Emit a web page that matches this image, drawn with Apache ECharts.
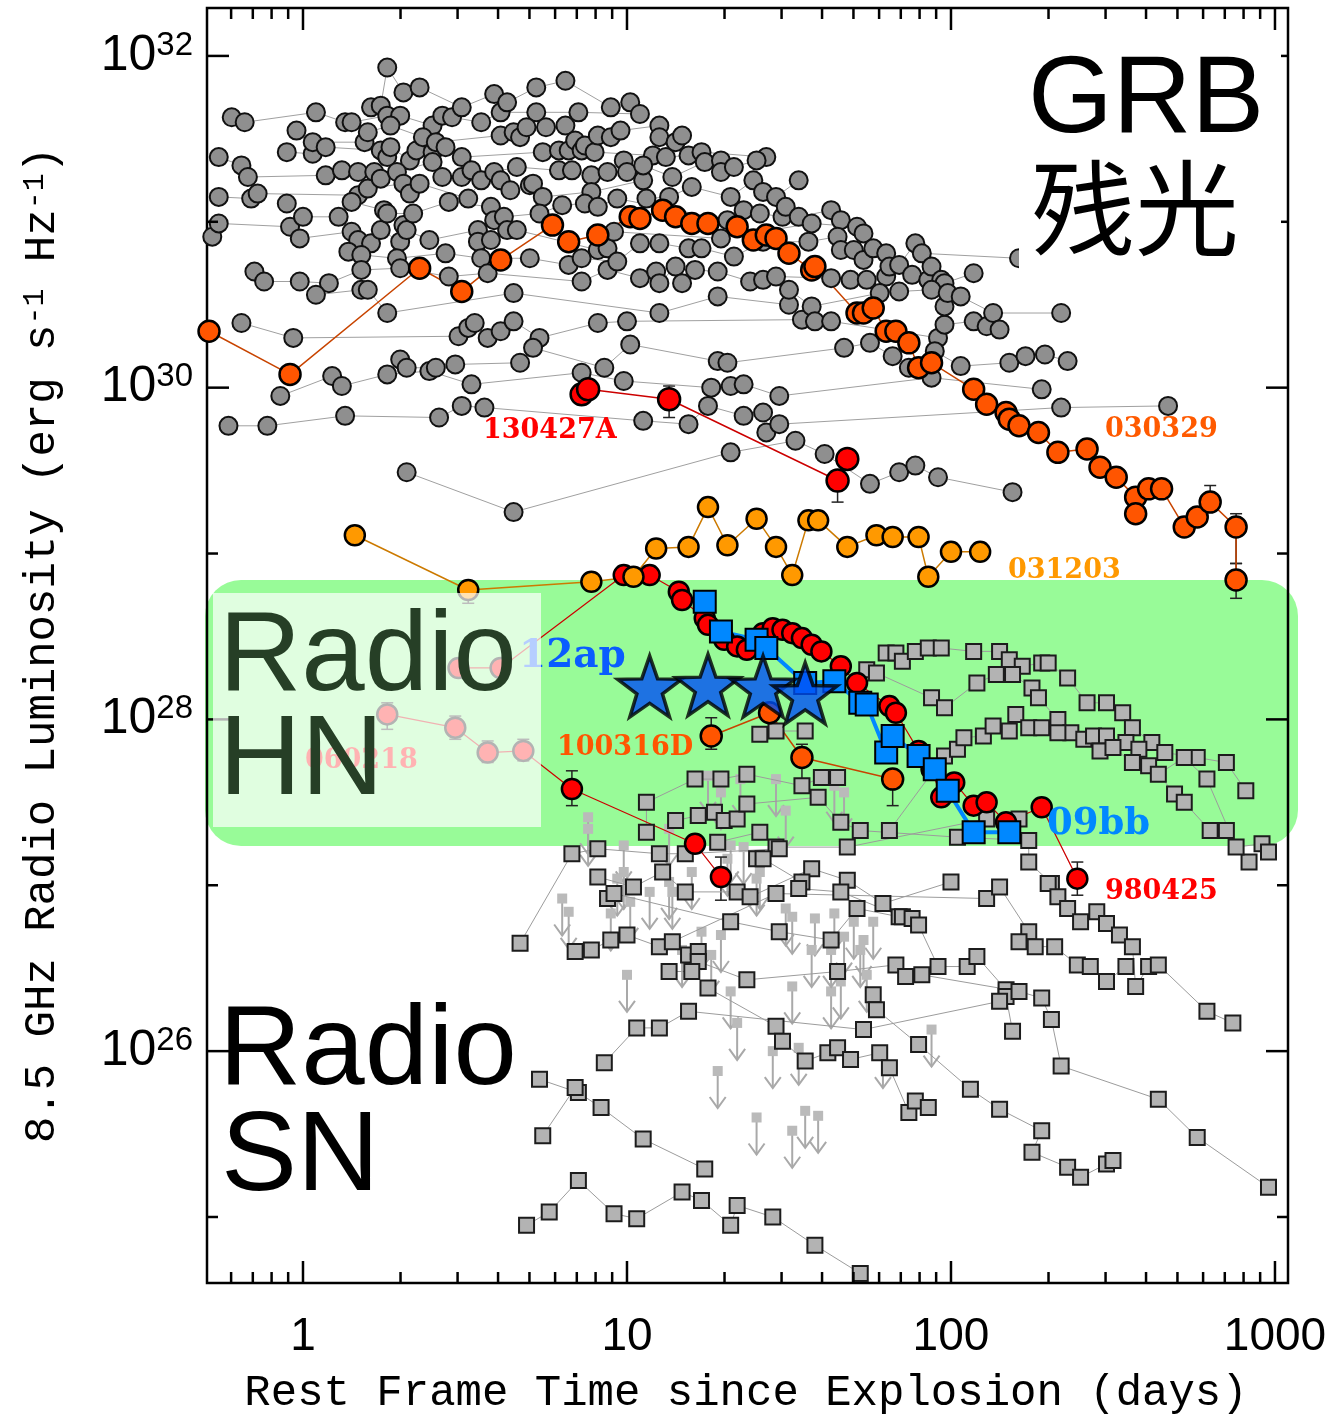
<!DOCTYPE html>
<html><head><meta charset="utf-8">
<script src="https://cdn.jsdelivr.net/npm/echarts@6/dist/echarts.min.js"></script>
<style>html,body{margin:0;padding:0;background:#fff}#c{width:1334px;height:1416px}</style>
</head><body><div id="c"></div>
<script>
// All values: [log10(days), log10(L_nu / erg s^-1 Hz^-1)]
const X_MIN = 0.5055, X_MAX = 1097, Y_MIN = 4.0e24, Y_MAX = 1.945e32;
const xTickLabels = [1, 10, 100, 1000];
const yTickExponents = [26, 28, 30, 32];

// grey GRB afterglows, grouped in luminosity bands
const grbBandA = [[-0.22,31.63],[-0.18,31.60],[0.04,31.66],[0.13,31.60],[0.15,31.60],[0.21,31.69],[0.24,31.70],[0.26,31.93],[0.26,31.64],[0.30,31.64],[0.31,31.78],[0.36,31.81],[0.40,31.58],[0.43,31.64],[0.46,31.63],[0.49,31.69],[0.55,31.60],[0.59,31.77],[0.61,31.66],[0.63,31.72],[0.72,31.66],[0.72,31.81],[0.81,31.85],[0.85,31.66],[0.95,31.69],[1.01,31.72],[1.04,31.65]];
const grbBandB = [[-0.05,31.42],[-0.02,31.55],[0.03,31.41],[0.03,31.48],[0.07,31.45],[0.19,31.48],[0.20,31.54],[0.24,31.43],[0.26,31.39],[0.27,31.58],[0.27,31.45],[0.33,31.37],[0.35,31.43],[0.37,31.51],[0.40,31.42],[0.41,31.48],[0.44,31.45],[0.49,31.39],[0.61,31.52],[0.65,31.54],[0.67,31.51],[0.69,31.57],[0.74,31.42],[0.75,31.57],[0.79,31.43],[0.81,31.58],[0.82,31.43],[0.84,31.49],[0.86,31.43],[0.87,31.46],[0.90,31.42],[0.91,31.52],[0.95,31.51],[0.98,31.55],[1.08,31.40],[1.10,31.58],[1.10,31.51],[1.12,31.39],[1.15,31.48],[1.17,31.52],[1.19,31.40],[1.23,31.42],[1.43,31.39]];
const grbBandC = [[-0.26,31.39],[-0.26,31.15],[-0.19,31.34],[-0.17,31.27],[-0.16,31.14],[-0.14,31.17],[0.07,31.28],[0.12,31.31],[0.17,31.30],[0.17,31.16],[0.20,31.20],[0.22,31.30],[0.24,31.26],[0.29,31.30],[0.31,31.23],[0.33,31.17],[0.36,31.23],[0.40,31.36],[0.43,31.27],[0.49,31.27],[0.51,31.14],[0.52,31.31],[0.55,31.25],[0.59,31.30],[0.61,31.25],[0.64,31.19],[0.66,31.33],[0.70,31.22],[0.71,31.23],[0.74,31.15],[0.79,31.31],[0.83,31.31],[0.89,31.28],[0.89,31.18],[0.94,31.30],[0.99,31.37],[1.00,31.30],[1.05,31.25],[1.05,31.34],[1.06,31.14],[1.13,31.15],[1.14,31.27],[1.20,31.21],[1.24,31.36],[1.29,31.37],[1.29,31.30],[1.32,31.15],[1.33,31.33],[1.39,31.25],[1.40,31.37],[1.42,31.18],[1.46,31.15],[1.53,31.25]];
const grbBandD = [[-0.28,30.91],[-0.26,30.99],[-0.05,31.11],[-0.04,30.97],[-0.01,30.90],[0.00,31.03],[0.11,31.03],[0.15,31.12],[0.15,30.94],[0.17,30.89],[0.21,30.87],[0.24,30.95],[0.25,31.07],[0.26,31.05],[0.30,30.88],[0.31,30.98],[0.32,30.95],[0.34,31.05],[0.39,30.89],[0.45,31.12],[0.54,30.95],[0.54,30.88],[0.58,31.09],[0.58,30.89],[0.59,31.01],[0.62,31.03],[0.63,30.95],[0.66,30.95],[0.73,31.05],[0.80,31.10],[0.87,31.11],[0.91,31.09],[0.91,30.83],[0.94,30.84],[0.96,30.94],[0.97,31.14],[1.29,30.90],[1.31,31.01],[1.36,31.07],[1.41,31.05],[1.48,31.03],[1.49,31.09],[1.53,31.03],[1.57,30.99],[1.63,31.07],[1.66,31.01],[1.71,30.97],[1.73,30.93]];
const grbBandE = [[-0.15,30.70],[-0.12,30.64],[-0.01,30.64],[0.08,30.63],[0.14,30.82],[0.18,30.80],[0.18,30.71],[0.29,30.78],[0.30,30.72],[0.44,30.81],[0.45,30.67],[0.55,30.78],[0.57,30.69],[0.70,30.78],[0.82,30.74],[0.86,30.64],[0.86,30.78],[0.94,30.71],[0.97,30.76],[1.04,30.87],[1.04,30.66],[1.09,30.70],[1.10,30.87],[1.10,30.63],[1.15,30.73],[1.17,30.63],[1.19,30.84],[1.21,30.71],[1.23,30.84],[1.28,30.70],[1.33,30.79],[1.38,30.64],[1.42,30.88],[1.42,30.65],[1.46,30.67],[1.56,30.88],[1.63,30.66],[1.65,30.91],[1.66,30.83],[1.69,30.65],[1.70,30.83],[1.73,30.77],[1.74,30.65],[1.76,30.84],[1.80,30.67],[1.80,30.81],[1.81,30.73],[1.84,30.74],[1.88,30.68],[1.89,30.87],[1.91,30.81],[1.93,30.65],[1.94,30.73],[1.97,30.65],[1.98,30.63],[2.07,30.69],[2.21,30.78]];
const grbBandF = [[-0.19,30.39],[-0.03,30.30],[0.04,30.56],[0.18,30.59],[0.20,30.59],[0.26,30.45],[0.48,30.31],[0.51,30.36],[0.53,30.39],[0.57,30.30],[0.61,30.34],[0.65,30.57],[0.65,30.40],[0.73,30.30],[0.91,30.39],[1.00,30.40],[1.10,30.45],[1.28,30.55],[1.50,30.50],[1.50,30.59],[1.54,30.41],[1.57,30.49],[1.58,30.40],[1.63,30.40],[1.78,30.57],[1.84,30.58],[1.94,30.59],[1.96,30.30],[1.98,30.38],[1.98,30.49],[1.99,30.57],[2.03,30.55],[2.07,30.40],[2.11,30.37],[2.13,30.45],[2.15,30.35],[2.34,30.45]];
const grbBandG = [[-0.07,29.95],[0.09,30.07],[0.12,30.01],[0.26,30.08],[0.30,30.17],[0.32,30.12],[0.39,30.10],[0.41,30.12],[0.47,30.14],[0.52,30.02],[0.67,30.15],[0.71,30.24],[0.86,30.09],[0.93,30.12],[0.99,30.04],[1.01,30.26],[1.26,30.00],[1.28,30.16],[1.31,30.15],[1.32,30.01],[1.36,30.02],[1.47,29.95],[1.67,30.24],[1.75,30.27],[1.82,30.19],[1.87,30.12],[1.94,30.06],[1.95,30.22],[2.03,30.13],[2.18,30.15],[2.23,30.19],[2.28,29.99],[2.29,30.20],[2.36,30.16]];
const grbBandH = [[-0.23,29.77],[-0.11,29.77],[0.13,29.83],[0.32,29.49],[0.42,29.82],[0.49,29.89],[0.56,29.88],[0.65,29.25],[1.05,29.80],[1.19,29.78],[1.25,29.89],[1.32,29.61],[1.36,29.83],[1.42,29.85],[1.43,29.73],[1.47,29.78],[1.52,29.68],[1.61,29.60],[1.75,29.42],[1.84,29.49],[1.89,29.53],[1.96,29.46],[2.19,29.37],[2.34,29.88],[2.67,29.89]];

// highlighted GRBs / SNe
const grb030329 = [[-0.29,30.34],[-0.04,30.08],[0.36,30.72],[0.49,30.58],[0.61,30.77],[0.77,30.98],[0.82,30.88],[0.91,30.92],[1.01,31.03],[1.04,31.02],[1.11,31.07],[1.15,31.03],[1.20,30.99],[1.25,30.99],[1.34,30.97],[1.39,30.89],[1.43,30.92],[1.46,30.90],[1.50,30.81],[1.57,30.71],[1.58,30.73],[1.71,30.45],[1.73,30.45],[1.76,30.48],[1.80,30.34],[1.83,30.34],[1.87,30.27],[1.90,30.12],[1.94,30.15],[2.07,29.99],[2.11,29.90],[2.17,29.85],[2.18,29.81],[2.21,29.77],[2.27,29.73],[2.33,29.61],[2.42,29.63],[2.46,29.52],[2.51,29.46],[2.57,29.34],[2.57,29.24],[2.61,29.39],[2.65,29.39],[2.72,29.16],[2.76,29.22],[2.80,29.31],[2.88,29.16],[2.88,28.84]];
const grb130427A = [[0.86,29.96],[0.88,29.99],[1.13,29.93],[1.65,29.44],[1.68,29.57]];
const grb031203 = [[0.16,29.11],[0.51,28.78],[0.89,28.83],[1.02,28.86],[1.09,29.03],[1.19,29.04],[1.25,29.28],[1.31,29.05],[1.40,29.21],[1.46,29.04],[1.51,28.87],[1.56,29.20],[1.59,29.20],[1.68,29.04],[1.77,29.11],[1.82,29.10],[1.90,29.10],[1.93,28.86],[2.00,29.01],[2.09,29.01]];
const grb980425 = [[0.48,28.31],[0.61,28.31],[0.99,28.87],[1.07,28.87],[1.16,28.77],[1.17,28.72],[1.24,28.61],[1.25,28.57],[1.30,28.48],[1.34,28.44],[1.37,28.42],[1.42,28.52],[1.45,28.55],[1.48,28.54],[1.51,28.52],[1.54,28.49],[1.57,28.45],[1.60,28.41],[1.66,28.32],[1.71,28.22],[1.81,28.08],[1.83,28.04],[1.90,27.81],[1.94,27.70],[1.97,27.53],[2.01,27.62],[2.07,27.48],[2.11,27.50],[2.17,27.38],[2.28,27.47],[2.39,27.04]];
const grb060218 = [[0.26,28.03],[0.47,27.95],[0.57,27.80],[0.68,27.81],[0.83,27.58],[1.21,27.25],[1.29,27.05]];
const grb100316D = [[1.26,27.90],[1.44,28.04],[1.54,27.77],[1.82,27.64]];
const sn2009bb = [[1.24,28.71],[1.29,28.53],[1.40,28.48],[1.43,28.43],[1.55,28.22],[1.64,28.23],[1.72,28.10],[1.74,28.09],[1.80,27.80],[1.82,27.90],[1.90,27.78],[1.95,27.70],[1.99,27.57],[2.07,27.32],[2.18,27.32]];
const sn2012ap = [[1.07,28.18],[1.25,28.19],[1.42,28.18],[1.55,28.14]];
// error bars: [log t, low, high]
const errorBars = [[1.13,29.82,30.01],[1.65,29.31,29.44],[2.80,29.31,29.41],[2.88,28.94,29.24],[2.88,28.73,28.94],[1.26,27.82,28.01],[1.82,27.48,27.64],[1.54,27.62,27.85],[0.83,27.48,27.69],[1.29,26.91,27.17],[2.39,26.94,27.14],[0.51,28.70,28.78],[0.26,27.94,28.10],[0.47,27.88,28.02],[0.57,27.74,27.87],[0.68,27.75,27.88]];

// ordinary radio supernovae (detections)
const snTracks = [
 [[1.80,28.40],[1.83,28.40],[1.85,28.35],[1.89,28.41],[1.93,28.43],[1.97,28.43],[2.07,28.41],[2.15,28.41],[2.18,28.36],[2.22,28.32],[2.28,28.34],[2.30,28.34],[2.36,28.25],[2.42,28.10],[2.48,28.10],[2.53,28.04],[2.56,27.95],[2.62,27.86],[2.66,27.80],[2.76,27.77],[2.85,27.74],[2.91,27.57]],
 [[1.74,28.30],[1.77,28.28],[1.94,28.13],[1.98,28.07],[2.08,28.22],[2.14,28.27],[2.19,28.27],[2.25,28.19],[2.27,28.13],[2.33,28.00],[2.37,27.92],[2.41,27.88],[2.44,27.90],[2.48,27.90],[2.54,27.86],[2.58,27.82],[2.69,27.55],[2.72,27.50],[2.80,27.33],[2.85,27.33],[2.92,27.14]],
 [[1.81,27.33],[1.98,27.78],[2.02,27.82],[2.04,27.89],[2.10,27.90],[2.13,27.96],[2.18,27.93],[2.20,28.03],[2.24,27.95],[2.28,27.95],[2.33,27.92],[2.46,27.81],[2.50,27.83],[2.56,27.74],[2.61,27.72],[2.64,27.67],[2.72,27.77],[2.79,27.64],[2.88,27.23],[2.96,27.25],[2.98,27.20]],
 [[1.06,27.32],[1.06,27.50],[1.21,27.64],[1.29,27.64],[1.37,27.67],[1.54,27.60],[1.60,27.65],[1.65,27.65]],
 [[1.15,27.39],[1.22,27.42],[1.27,27.44],[1.30,27.39],[1.34,27.40],[1.37,27.49],[1.59,27.53],[1.66,27.38],[1.72,27.33],[2.02,27.29],[2.24,27.27],[2.24,27.14],[2.31,27.01]],
 [[1.28,27.26],[1.41,27.32],[1.46,27.23],[1.68,27.23],[2.11,27.40],[2.21,27.40]],
 [[1.41,27.91],[1.46,27.93],[1.55,27.93]],
 [[0.67,26.65],[0.83,27.19],[0.91,27.22],[1.10,27.19],[1.18,27.19],[1.47,27.22]],
 [[0.91,27.05],[1.02,26.99],[1.11,27.08],[1.18,26.96],[1.34,26.96],[1.38,26.93],[1.57,27.10],[1.68,27.03],[1.79,26.89],[2.00,27.02]],
 [[0.94,26.92],[0.96,26.95],[1.32,26.78],[1.47,26.72],[1.63,26.67],[1.71,26.86],[1.84,26.81]],
 [[1.40,27.16],[1.42,27.16],[1.54,27.02],[1.53,26.98],[1.66,26.96],[1.85,26.81],[1.88,26.80],[1.90,26.76],[1.96,26.51],[2.05,26.51],[2.08,26.57],[2.17,26.37],[2.17,26.33],[2.19,26.12]],
 [[0.84,26.60],[0.89,26.61],[0.95,26.67],[1.00,26.70],[1.10,26.63],[1.14,26.66],[1.46,26.95],[2.11,26.92],[2.15,26.99],[2.24,26.72],[2.21,26.66],[2.26,26.63],[2.32,26.63],[2.39,26.52],[2.43,26.51],[2.48,26.42],[2.54,26.51]],
 [[2.30,27.01],[2.33,26.93],[2.36,26.86],[2.40,26.78],[2.45,26.84],[2.48,26.77],[2.52,26.70],[2.56,26.63],[2.57,26.39],[2.61,26.51],[2.64,26.52],[2.79,26.24],[2.87,26.17]],
 [[1.19,26.58],[1.22,26.60],[1.22,26.54],[1.37,26.43],[1.65,26.48],[1.83,26.52],[1.86,26.45],[1.91,26.46],[2.21,26.36],[2.28,26.32],[2.31,26.19],[2.34,25.91],[2.64,25.71],[2.76,25.48],[2.98,25.18]],
 [[1.13,26.48],[1.20,26.48],[1.25,26.38],[1.46,26.15],[1.48,26.06],[1.55,25.94],[1.62,25.99],[1.65,26.02],[1.69,25.95],[1.78,25.99],[1.81,25.90],[1.87,25.63],[1.89,25.70],[1.93,25.66]],
 [[0.93,25.93],[1.03,26.14],[1.10,26.14],[1.19,26.24],[1.73,26.13],[2.15,26.30]],
 [[1.76,26.34],[1.77,26.25],[1.90,26.04],[2.06,25.77],[2.15,25.65],[2.28,25.52],[2.25,25.39],[2.36,25.30],[2.40,25.24],[2.48,25.32],[2.50,25.34]],
 [[0.73,25.83],[0.85,25.75],[0.92,25.66],[1.05,25.47],[1.24,25.29]],
 [[0.74,25.49],[0.84,25.78]],
 [[0.69,24.95],[0.76,25.03],[0.85,25.22],[0.96,25.02],[1.03,24.99],[1.17,25.15],[1.23,25.10],[1.32,24.95],[1.34,25.07],[1.45,25.00],[1.58,24.83],[1.72,24.66]]
];
// radio SN upper limits
const snUpperLimits = [[0.88,27.41],[0.88,27.34],[1.25,27.66],[1.29,27.56],[1.35,27.64],[1.46,27.64],[1.49,27.45],[1.64,27.60],[1.67,27.56],[1.13,27.34],[0.99,27.24],[1.32,27.24],[0.99,27.08],[0.97,27.04],[1.01,26.90],[0.80,26.92],[0.82,26.84],[0.95,26.83],[1.07,26.96],[1.13,27.02],[1.14,26.96],[1.20,27.08],[1.36,27.23],[1.41,27.08],[1.40,27.04],[1.31,27.16],[1.23,26.72],[1.29,26.70],[1.17,26.61],[1.26,26.58],[1.00,26.46],[1.32,26.36],[1.34,26.17],[1.51,26.39],[1.49,26.86],[1.51,26.81],[1.58,26.80],[1.64,26.83],[1.70,26.78],[1.73,26.67],[1.76,26.78],[1.67,26.69],[1.72,26.61],[1.74,26.46],[1.63,26.36],[1.66,26.42],[1.57,26.61],[1.63,26.61],[1.45,26.00],[1.53,26.02],[1.79,26.00],[1.28,25.88],[1.40,25.60],[1.55,25.64],[1.59,25.61],[1.51,25.52],[1.94,26.13]];

const L = p => [Math.pow(10, p[0]), Math.pow(10, p[1])];
const grbBands = [grbBandA, grbBandB, grbBandC, grbBandD, grbBandE, grbBandF, grbBandG, grbBandH];
const STAR = 'path://M50 0 L61.76 33.82 L97.55 34.55 L69.02 56.18 L79.39 90.45 L50 70 L20.61 90.45 L30.98 56.18 L2.45 34.55 L38.24 33.82 Z';

const series = [];
// SN tracks
snTracks.forEach(tr => series.push({
  type: 'line', data: tr.map(L), symbol: 'rect', symbolSize: 15, showSymbol: true,
  lineStyle: { color: '#9c9c9c', width: 1 },
  itemStyle: { color: '#b3b3b3', borderColor: '#1c1c1c', borderWidth: 2 },
  silent: true, z: 2
}));
// upper limits
series.push({
  type: 'custom', data: snUpperLimits.map(L), silent: true, z: 2,
  renderItem: function (params, api) {
    const p = api.coord([api.value(0), api.value(1)]);
    const s = 10, len = 37, ah = 11, aw = 8;
    return { type: 'group', children: [
      { type: 'line', shape: { x1: p[0], y1: p[1], x2: p[0], y2: p[1] + len }, style: { stroke: '#a9a9a9', lineWidth: 2 } },
      { type: 'polyline', shape: { points: [[p[0] - aw, p[1] + len - ah], [p[0], p[1] + len], [p[0] + aw, p[1] + len - ah]] }, style: { stroke: '#a9a9a9', lineWidth: 2, fill: null } },
      { type: 'rect', shape: { x: p[0] - s / 2, y: p[1] - s / 2, width: s, height: s }, style: { fill: '#bababa' } }
    ] };
  }
});
// grey GRB lines
grbBands.forEach(band => {
  const m = band.reduce((s, p) => s + p[1], 0) / band.length;
  const up = band.filter(p => p[1] >= m).sort((a, b) => a[0] - b[0]);
  const lo = band.filter(p => p[1] < m).sort((a, b) => a[0] - b[0]);
  [up, lo].forEach(tr => series.push({
    type: 'line', data: tr.map(L), symbol: 'none', silent: true, z: 2,
    lineStyle: { color: '#a0a0a0', width: 1 }
  }));
});
// grey GRB points
series.push({
  type: 'scatter', data: [].concat(...grbBands).map(L), symbolSize: 18, silent: true, z: 2,
  itemStyle: { color: '#8f8f8f', borderColor: '#111', borderWidth: 2, opacity: 1 }
});
// error bars
series.push({
  type: 'custom', data: errorBars.map(e => [Math.pow(10, e[0]), Math.pow(10, e[1]), Math.pow(10, e[2])]), silent: true, z: 2,
  renderItem: function (params, api) {
    const a = api.coord([api.value(0), api.value(1)]);
    const b = api.coord([api.value(0), api.value(2)]);
    const st = { stroke: '#222', lineWidth: 1.5 };
    return { type: 'group', children: [
      { type: 'line', shape: { x1: a[0], y1: a[1], x2: b[0], y2: b[1] }, style: st },
      { type: 'line', shape: { x1: a[0] - 6, y1: a[1], x2: a[0] + 6, y2: a[1] }, style: st },
      { type: 'line', shape: { x1: b[0] - 6, y1: b[1], x2: b[0] + 6, y2: b[1] }, style: st }
    ] };
  }
});
function hl(data, fill, lineColor, lineWidth, symbol, size, bw) {
  return {
    type: 'line', data: data.map(L), symbol: symbol, symbolSize: size, showSymbol: true, silent: true, z: 2,
    lineStyle: { color: lineColor, width: lineWidth },
    itemStyle: { color: fill, borderColor: '#000', borderWidth: bw }
  };
}
series.push(hl(grb060218, '#ff0000', '#cc0000', 1.2, 'circle', 20, 2.5));
series.push(hl(grb980425, '#ff0000', '#cc0000', 1.2, 'circle', 20, 2.5));
series.push(hl(grb031203, '#ff9900', '#cc7a00', 1.5, 'circle', 20, 2.5));
series.push(hl(grb030329, '#ff5500', '#c84400', 1.5, 'circle', 21, 2.5));
series.push(hl(grb130427A, '#ff0000', '#cc0000', 1.5, 'circle', 22, 2.5));
series.push(hl(grb100316D, '#ff5500', '#c84400', 1.5, 'circle', 21, 2.5));
series.push(hl(sn2009bb, '#0088ff', '#0088ff', 4, 'rect', 22, 2));
series.push({
  type: 'scatter', data: sn2012ap.map(L), symbol: STAR, symbolSize: [64, 61], symbolOffset: [0, -3], silent: true, z: 2,
  itemStyle: { color: '#0050f5', borderColor: '#000', borderWidth: 3.5 }
});
// custom tick marks (log minor ticks on x, decade ticks on y)
series.push({
  type: 'custom', data: [[1, 1e28]], silent: true, z: 3,
  renderItem: function (params, api) {
    const cs = params.coordSys;
    const left = cs.x, right = cs.x + cs.width, top = cs.y, bottom = cs.y + cs.height;
    const st = { stroke: '#000', lineWidth: 2.5 };
    const ch = [];
    for (let e = -1; e <= 3; e++) for (let k = 1; k <= 9; k++) {
      const v = k * Math.pow(10, e);
      if (v < X_MIN || v > X_MAX) continue;
      const px = api.coord([v, 1e28])[0];
      const len = k === 1 ? 22 : 11;
      ch.push({ type: 'line', shape: { x1: px, y1: bottom, x2: px, y2: bottom - len }, style: st });
      ch.push({ type: 'line', shape: { x1: px, y1: top, x2: px, y2: top + len }, style: st });
    }
    for (let e = 25; e <= 32; e++) {
      const py = api.coord([1, Math.pow(10, e)])[1];
      const len = e % 2 === 0 ? 22 : 11;
      ch.push({ type: 'line', shape: { x1: left, y1: py, x2: left + len, y2: py }, style: st });
      ch.push({ type: 'line', shape: { x1: right, y1: py, x2: right - len, y2: py }, style: st });
    }
    return { type: 'group', children: ch };
  }
});

function label(text, x, y, color, size) {
  return { type: 'text', x: x, y: y, z: 5, silent: true,
    style: { text: text, fill: color, fontFamily: 'DejaVu Serif', fontWeight: 'bold', fontSize: size,
      align: 'left', verticalAlign: 'middle', textAlign: 'left', textVerticalAlign: 'middle' } };
}
function big(text, x, y, color, size, fam) {
  return { type: 'text', x: x, y: y, z: 12, silent: true,
    style: { text: text, fill: color, fontFamily: fam || 'Liberation Sans', fontSize: size,
      align: 'left', verticalAlign: 'middle', textAlign: 'left', textVerticalAlign: 'middle' } };
}

const option = {
  animation: false,
  backgroundColor: '#fff',
  grid: { left: 207, right: 46, top: 8, bottom: 133, show: true, borderColor: '#000', borderWidth: 2.5, backgroundColor: 'transparent' },
  xAxis: {
    type: 'log', logBase: 10, min: X_MIN, max: X_MAX,
    axisLine: { show: false }, axisTick: { show: false }, splitLine: { show: false }, minorTick: { show: false },
    axisLabel: {
      showMinLabel: false, showMaxLabel: false, margin: 31, color: '#000',
      fontFamily: 'Liberation Sans', fontSize: 46,
      formatter: function (v) {
        const e = Math.log10(v);
        if (Math.abs(e - Math.round(e)) > 1e-6) return '';
        const n = Math.round(v);
        return xTickLabels.indexOf(n) >= 0 ? String(n) : '';
      }
    }
  },
  yAxis: {
    type: 'log', logBase: 10, min: Y_MIN, max: Y_MAX,
    axisLine: { show: false }, axisTick: { show: false }, splitLine: { show: false }, minorTick: { show: false },
    axisLabel: {
      showMinLabel: false, showMaxLabel: false, margin: 14, color: '#000',
      formatter: function (v) {
        const l = Math.log10(v), e = Math.round(l);
        if (Math.abs(l - e) > 1e-6 || yTickExponents.indexOf(e) < 0) return '';
        return '{b|10}{s|' + e + '}';
      },
      rich: {
        b: { fontFamily: 'Liberation Sans', fontSize: 50, color: '#000', lineHeight: 54 },
        s: { fontFamily: 'Liberation Sans', fontSize: 33, color: '#000', verticalAlign: 'top' }
      }
    }
  },
  graphic: [
    { type: 'rect', z: -1, silent: true, shape: { x: 205, y: 580, width: 1093, height: 266, r: 36 }, style: { fill: '#98fb98' } },
    label('130427A', 483, 431, '#ff0000', 27),
    label('030329', 1105, 430, '#ff5a00', 27),
    label('031203', 1008, 571, '#ff9900', 27),
    label('12ap', 519, 657, '#0a5cff', 39),
    label('100316D', 557, 748, '#ff5500', 27),
    label('060218', 305, 761, '#ff0000', 27),
    label('09bb', 1047, 824, '#0088ff', 37),
    label('980425', 1105, 892, '#ff0000', 27),
    { type: 'rect', z: 10, silent: true, shape: { x: 213, y: 593, width: 328, height: 234 }, style: { fill: 'rgba(255,255,255,0.7)' } },
    { type: 'rect', z: 10, silent: true, shape: { x: 1019, y: 35, width: 262, height: 234 }, style: { fill: '#fff' } },
    big('GRB', 1028, 102, '#000', 109),
    big('残光', 1031, 208, '#000', 104, 'Noto Sans CJK SC'),
    big('Radio', 219, 659, '#263f26', 114),
    big('HN', 219, 763, '#263f26', 114),
    big('Radio', 219, 1053, '#000', 114),
    big('SN', 221, 1159, '#000', 114),
    { type: 'text', x: 746, y: 1393, z: 12, silent: true,
      style: { text: 'Rest Frame Time since Explosion (days)', fill: '#000', fontFamily: 'Liberation Mono', fontSize: 44,
        align: 'center', verticalAlign: 'middle', textAlign: 'center', textVerticalAlign: 'middle' } },
    { type: 'text', x: 42, y: 645, z: 12, rotation: Math.PI / 2, silent: true,
      style: { text: '8.5 GHz Radio Luminosity (erg s{s|-1} Hz{s|-1})', fill: '#000', fontFamily: 'Liberation Mono', fontSize: 44,
        align: 'center', verticalAlign: 'middle', textAlign: 'center', textVerticalAlign: 'middle',
        rich: { s: { fontFamily: 'Liberation Mono', fontSize: 30, fill: '#000', verticalAlign: 'top' } } } }
  ],
  series: series
};
const chart = echarts.init(document.getElementById('c'), null, { renderer: 'canvas' });
chart.setOption(option);
</script></body></html>
